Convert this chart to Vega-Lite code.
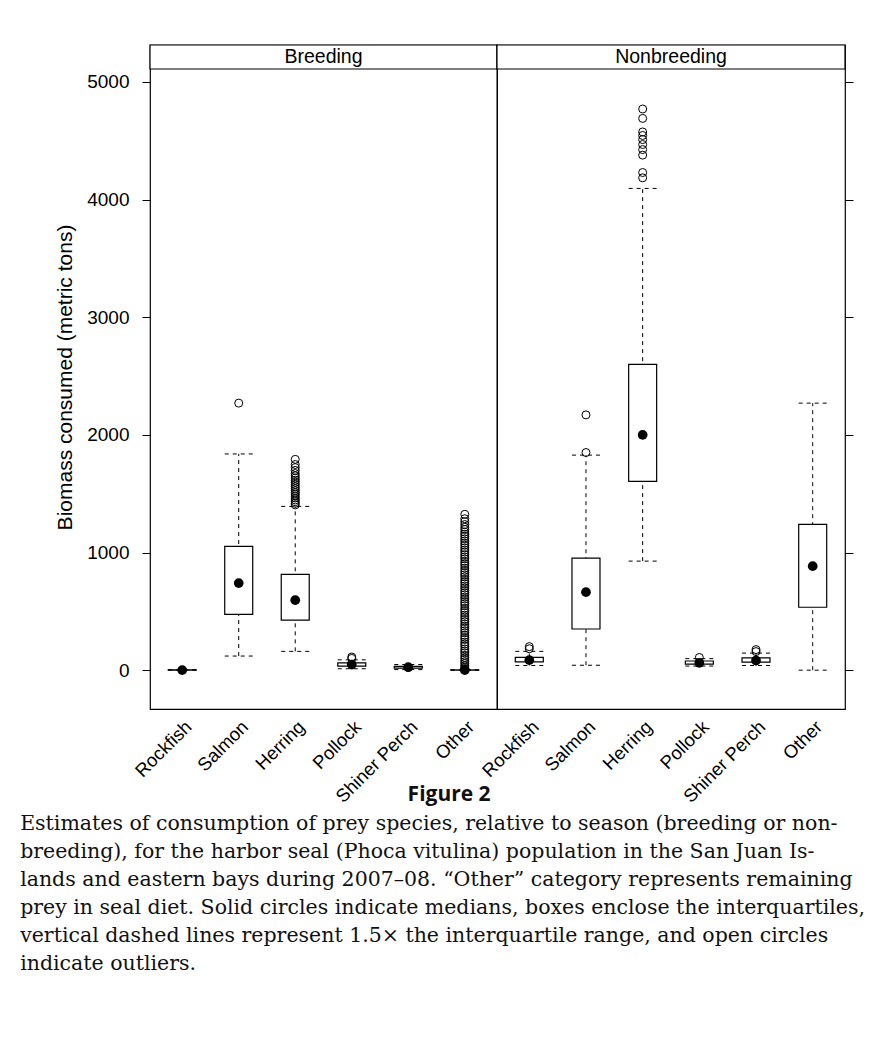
{
  "$schema": "https://vega.github.io/schema/vega-lite/v6.json",
  "padding": {"left": 20, "top": 43, "right": 0, "bottom": 0},
  "autosize": {"type": "pad"},
  "background": "white",
  "config": {
    "font": "Liberation Sans",
    "view": {"stroke": "black", "strokeWidth": 1.2},
    "axis": {"labelColor": "black", "titleColor": "black", "tickColor": "black", "labelFont": "Liberation Sans", "titleFont": "Liberation Sans"}
  },
  "datasets": {
    "panels": [{"season": "Breeding"}, {"season": "Nonbreeding"}],
    "stats": [
      {"season": "Breeding", "species": "Rockfish", "lo": 0, "q1": 0, "med": 0, "q3": 3, "hi": 6},
      {"season": "Breeding", "species": "Salmon", "lo": 120, "q1": 475, "med": 740, "q3": 1052, "hi": 1838},
      {"season": "Breeding", "species": "Herring", "lo": 160, "q1": 425, "med": 595, "q3": 815, "hi": 1392},
      {"season": "Breeding", "species": "Pollock", "lo": 12, "q1": 35, "med": 48, "q3": 62, "hi": 88},
      {"season": "Breeding", "species": "Shiner Perch", "lo": 5, "q1": 18, "med": 25, "q3": 32, "hi": 48},
      {"season": "Breeding", "species": "Other", "lo": 0, "q1": 0, "med": 0, "q3": 2, "hi": 4},
      {"season": "Nonbreeding", "species": "Rockfish", "lo": 40, "q1": 70, "med": 85, "q3": 108, "hi": 160},
      {"season": "Nonbreeding", "species": "Salmon", "lo": 42, "q1": 350, "med": 663, "q3": 952, "hi": 1828},
      {"season": "Nonbreeding", "species": "Herring", "lo": 927, "q1": 1605, "med": 2000, "q3": 2600, "hi": 4095},
      {"season": "Nonbreeding", "species": "Pollock", "lo": 35, "q1": 52, "med": 62, "q3": 78, "hi": 98},
      {"season": "Nonbreeding", "species": "Shiner Perch", "lo": 40, "q1": 68, "med": 82, "q3": 105, "hi": 145},
      {"season": "Nonbreeding", "species": "Other", "lo": 0, "q1": 535, "med": 884, "q3": 1240, "hi": 2270}
    ],
    "outliers": [
      {"season": "Breeding", "species": "Salmon", "value": 2270},
      {"season": "Breeding", "species": "Pollock", "value": 100},
      {"season": "Breeding", "species": "Pollock", "value": 112},
      {"season": "Breeding", "species": "Herring", "value": 1405},
      {"season": "Breeding", "species": "Herring", "value": 1418},
      {"season": "Breeding", "species": "Herring", "value": 1432},
      {"season": "Breeding", "species": "Herring", "value": 1447},
      {"season": "Breeding", "species": "Herring", "value": 1463},
      {"season": "Breeding", "species": "Herring", "value": 1480},
      {"season": "Breeding", "species": "Herring", "value": 1497},
      {"season": "Breeding", "species": "Herring", "value": 1512},
      {"season": "Breeding", "species": "Herring", "value": 1528},
      {"season": "Breeding", "species": "Herring", "value": 1545},
      {"season": "Breeding", "species": "Herring", "value": 1562},
      {"season": "Breeding", "species": "Herring", "value": 1580},
      {"season": "Breeding", "species": "Herring", "value": 1598},
      {"season": "Breeding", "species": "Herring", "value": 1615},
      {"season": "Breeding", "species": "Herring", "value": 1633},
      {"season": "Breeding", "species": "Herring", "value": 1652},
      {"season": "Breeding", "species": "Herring", "value": 1672},
      {"season": "Breeding", "species": "Herring", "value": 1698},
      {"season": "Breeding", "species": "Herring", "value": 1722},
      {"season": "Breeding", "species": "Herring", "value": 1748},
      {"season": "Breeding", "species": "Herring", "value": 1792},
      {"season": "Breeding", "species": "Other", "value": 6},
      {"season": "Breeding", "species": "Other", "value": 14},
      {"season": "Breeding", "species": "Other", "value": 27},
      {"season": "Breeding", "species": "Other", "value": 41},
      {"season": "Breeding", "species": "Other", "value": 58},
      {"season": "Breeding", "species": "Other", "value": 73},
      {"season": "Breeding", "species": "Other", "value": 92},
      {"season": "Breeding", "species": "Other", "value": 108},
      {"season": "Breeding", "species": "Other", "value": 126},
      {"season": "Breeding", "species": "Other", "value": 147},
      {"season": "Breeding", "species": "Other", "value": 163},
      {"season": "Breeding", "species": "Other", "value": 181},
      {"season": "Breeding", "species": "Other", "value": 204},
      {"season": "Breeding", "species": "Other", "value": 222},
      {"season": "Breeding", "species": "Other", "value": 239},
      {"season": "Breeding", "species": "Other", "value": 261},
      {"season": "Breeding", "species": "Other", "value": 278},
      {"season": "Breeding", "species": "Other", "value": 296},
      {"season": "Breeding", "species": "Other", "value": 318},
      {"season": "Breeding", "species": "Other", "value": 335},
      {"season": "Breeding", "species": "Other", "value": 357},
      {"season": "Breeding", "species": "Other", "value": 374},
      {"season": "Breeding", "species": "Other", "value": 392},
      {"season": "Breeding", "species": "Other", "value": 413},
      {"season": "Breeding", "species": "Other", "value": 431},
      {"season": "Breeding", "species": "Other", "value": 452},
      {"season": "Breeding", "species": "Other", "value": 468},
      {"season": "Breeding", "species": "Other", "value": 489},
      {"season": "Breeding", "species": "Other", "value": 507},
      {"season": "Breeding", "species": "Other", "value": 526},
      {"season": "Breeding", "species": "Other", "value": 548},
      {"season": "Breeding", "species": "Other", "value": 566},
      {"season": "Breeding", "species": "Other", "value": 583},
      {"season": "Breeding", "species": "Other", "value": 604},
      {"season": "Breeding", "species": "Other", "value": 622},
      {"season": "Breeding", "species": "Other", "value": 641},
      {"season": "Breeding", "species": "Other", "value": 659},
      {"season": "Breeding", "species": "Other", "value": 677},
      {"season": "Breeding", "species": "Other", "value": 698},
      {"season": "Breeding", "species": "Other", "value": 716},
      {"season": "Breeding", "species": "Other", "value": 735},
      {"season": "Breeding", "species": "Other", "value": 753},
      {"season": "Breeding", "species": "Other", "value": 772},
      {"season": "Breeding", "species": "Other", "value": 794},
      {"season": "Breeding", "species": "Other", "value": 811},
      {"season": "Breeding", "species": "Other", "value": 829},
      {"season": "Breeding", "species": "Other", "value": 848},
      {"season": "Breeding", "species": "Other", "value": 867},
      {"season": "Breeding", "species": "Other", "value": 889},
      {"season": "Breeding", "species": "Other", "value": 906},
      {"season": "Breeding", "species": "Other", "value": 925},
      {"season": "Breeding", "species": "Other", "value": 946},
      {"season": "Breeding", "species": "Other", "value": 963},
      {"season": "Breeding", "species": "Other", "value": 982},
      {"season": "Breeding", "species": "Other", "value": 1003},
      {"season": "Breeding", "species": "Other", "value": 1021},
      {"season": "Breeding", "species": "Other", "value": 1040},
      {"season": "Breeding", "species": "Other", "value": 1062},
      {"season": "Breeding", "species": "Other", "value": 1079},
      {"season": "Breeding", "species": "Other", "value": 1098},
      {"season": "Breeding", "species": "Other", "value": 1117},
      {"season": "Breeding", "species": "Other", "value": 1138},
      {"season": "Breeding", "species": "Other", "value": 1156},
      {"season": "Breeding", "species": "Other", "value": 1174},
      {"season": "Breeding", "species": "Other", "value": 1196},
      {"season": "Breeding", "species": "Other", "value": 1215},
      {"season": "Breeding", "species": "Other", "value": 1238},
      {"season": "Breeding", "species": "Other", "value": 1262},
      {"season": "Breeding", "species": "Other", "value": 1287},
      {"season": "Breeding", "species": "Other", "value": 1325},
      {"season": "Nonbreeding", "species": "Rockfish", "value": 182},
      {"season": "Nonbreeding", "species": "Rockfish", "value": 200},
      {"season": "Nonbreeding", "species": "Salmon", "value": 1850},
      {"season": "Nonbreeding", "species": "Salmon", "value": 2170},
      {"season": "Nonbreeding", "species": "Herring", "value": 4185},
      {"season": "Nonbreeding", "species": "Herring", "value": 4230},
      {"season": "Nonbreeding", "species": "Herring", "value": 4378},
      {"season": "Nonbreeding", "species": "Herring", "value": 4425},
      {"season": "Nonbreeding", "species": "Herring", "value": 4468},
      {"season": "Nonbreeding", "species": "Herring", "value": 4510},
      {"season": "Nonbreeding", "species": "Herring", "value": 4545},
      {"season": "Nonbreeding", "species": "Herring", "value": 4575},
      {"season": "Nonbreeding", "species": "Herring", "value": 4690},
      {"season": "Nonbreeding", "species": "Herring", "value": 4770},
      {"season": "Nonbreeding", "species": "Pollock", "value": 108},
      {"season": "Nonbreeding", "species": "Shiner Perch", "value": 158},
      {"season": "Nonbreeding", "species": "Shiner Perch", "value": 175}
    ]
  },
  "title": {
    "text": [
      "Estimates of consumption of prey species, relative to season (breeding or non-",
      "breeding), for the harbor seal (Phoca vitulina) population in the San Juan Is-",
      "lands and eastern bays during 2007–08. “Other” category represents remaining",
      "prey in seal diet. Solid circles indicate medians, boxes enclose the interquartiles,",
      "vertical dashed lines represent 1.5× the interquartile range, and open circles",
      "indicate outliers."
    ],
    "orient": "bottom",
    "anchor": "start",
    "font": "DejaVu Serif",
    "fontSize": 20.5,
    "fontWeight": "normal",
    "lineHeight": 28,
    "color": "#111111",
    "dx": -34,
    "offset": 8
  },
  "vconcat": [
    {
      "title": {"text": "Figure 2", "orient": "bottom", "anchor": "middle", "font": "Open Sans", "fontSize": 21, "fontWeight": "bold", "color": "#111111", "offset": -22, "dx": -5},
      "spacing": 0,
      "bounds": "flush",
      "hconcat": [
        {
          "width": 347,
          "height": 664,
          "layer": [
            {
              "data": {"name": "panels"},
              "transform": [{"filter": "datum.season === 'Breeding'"}],
              "mark": {"type": "rect", "fill": "white", "stroke": "black", "strokeWidth": 1.2},
              "encoding": {
                "y": {"datum": 5110, "type": "quantitative", "scale": {"domain": [-330, 5314], "nice": false, "zero": false},
                  "axis": {"orient": "left", "values": [0, 1000, 2000, 3000, 4000, 5000], "format": "d", "grid": false, "domain": false, "tickSize": 8, "labelPadding": 13, "labelFontSize": 19, "title": "Biomass consumed (metric tons)", "titleFontSize": 21, "titleFontWeight": "normal", "titlePadding": 11}},
                "y2": {"datum": 5314}
              }
            },
            {
              "data": {"name": "panels"},
              "transform": [{"filter": "datum.season === 'Breeding'"}],
              "mark": {"type": "text", "fontSize": 19.5, "font": "Liberation Sans", "color": "black", "baseline": "middle"},
              "encoding": {"y": {"datum": 5212, "type": "quantitative"}, "text": {"field": "season"}}
            },
            {
              "data": {"name": "stats"},
              "transform": [{"filter": "datum.season === 'Breeding'"}],
              "mark": {"type": "rule", "strokeDash": [4, 4], "color": "black", "strokeWidth": 1},
              "encoding": {
                "x": {"field": "species", "type": "nominal", "sort": ["Rockfish", "Salmon", "Herring", "Pollock", "Shiner Perch", "Other"], "scale": {"paddingInner": 0, "paddingOuter": 0.07},
                  "axis": {"title": null, "labelAngle": -45, "labelFontSize": 18.5, "ticks": false, "domain": false, "labelPadding": 8}},
                "y": {"field": "lo", "type": "quantitative"},
                "y2": {"field": "hi"}
              }
            },
            {
              "data": {"name": "stats"},
              "transform": [{"filter": "datum.season === 'Breeding'"}],
              "mark": {"type": "point", "shape": "stroke", "filled": false, "strokeDash": [4, 4], "stroke": "black", "strokeWidth": 1, "size": 784, "opacity": 1},
              "encoding": {"x": {"field": "species", "type": "nominal", "sort": ["Rockfish", "Salmon", "Herring", "Pollock", "Shiner Perch", "Other"]}, "y": {"field": "lo", "type": "quantitative"}}
            },
            {
              "data": {"name": "stats"},
              "transform": [{"filter": "datum.season === 'Breeding'"}],
              "mark": {"type": "point", "shape": "stroke", "filled": false, "strokeDash": [4, 4], "stroke": "black", "strokeWidth": 1, "size": 784, "opacity": 1},
              "encoding": {"x": {"field": "species", "type": "nominal", "sort": ["Rockfish", "Salmon", "Herring", "Pollock", "Shiner Perch", "Other"]}, "y": {"field": "hi", "type": "quantitative"}}
            },
            {
              "data": {"name": "stats"},
              "transform": [{"filter": "datum.season === 'Breeding'"}],
              "mark": {"type": "bar", "width": 28, "fill": "white", "stroke": "black", "strokeWidth": 1.2},
              "encoding": {"x": {"field": "species", "type": "nominal", "sort": ["Rockfish", "Salmon", "Herring", "Pollock", "Shiner Perch", "Other"]}, "y": {"field": "q1", "type": "quantitative"}, "y2": {"field": "q3"}}
            },
            {
              "data": {"name": "outliers"},
              "transform": [{"filter": "datum.season === 'Breeding'"}],
              "mark": {"type": "point", "shape": "circle", "filled": false, "stroke": "black", "strokeWidth": 1, "size": 64, "opacity": 1},
              "encoding": {"x": {"field": "species", "type": "nominal", "sort": ["Rockfish", "Salmon", "Herring", "Pollock", "Shiner Perch", "Other"]}, "y": {"field": "value", "type": "quantitative"}}
            },
            {
              "data": {"name": "stats"},
              "transform": [{"filter": "datum.season === 'Breeding'"}],
              "mark": {"type": "point", "shape": "circle", "filled": true, "color": "black", "size": 95, "opacity": 1},
              "encoding": {"x": {"field": "species", "type": "nominal", "sort": ["Rockfish", "Salmon", "Herring", "Pollock", "Shiner Perch", "Other"]}, "y": {"field": "med", "type": "quantitative"}}
            }
          ]
        },
        {
          "width": 348,
          "height": 664,
          "layer": [
            {
              "data": {"name": "panels"},
              "transform": [{"filter": "datum.season === 'Nonbreeding'"}],
              "mark": {"type": "rect", "fill": "white", "stroke": "black", "strokeWidth": 1.2},
              "encoding": {
                "y": {"datum": 5110, "type": "quantitative", "scale": {"domain": [-330, 5314], "nice": false, "zero": false},
                  "axis": {"orient": "right", "values": [0, 1000, 2000, 3000, 4000, 5000], "grid": false, "domain": false, "tickSize": 8, "labels": false, "title": null}},
                "y2": {"datum": 5314}
              }
            },
            {
              "data": {"name": "panels"},
              "transform": [{"filter": "datum.season === 'Nonbreeding'"}],
              "mark": {"type": "text", "fontSize": 19.5, "font": "Liberation Sans", "color": "black", "baseline": "middle"},
              "encoding": {"y": {"datum": 5212, "type": "quantitative"}, "text": {"field": "season"}}
            },
            {
              "data": {"name": "stats"},
              "transform": [{"filter": "datum.season === 'Nonbreeding'"}],
              "mark": {"type": "rule", "strokeDash": [4, 4], "color": "black", "strokeWidth": 1},
              "encoding": {
                "x": {"field": "species", "type": "nominal", "sort": ["Rockfish", "Salmon", "Herring", "Pollock", "Shiner Perch", "Other"], "scale": {"paddingInner": 0, "paddingOuter": 0.07},
                  "axis": {"title": null, "labelAngle": -45, "labelFontSize": 18.5, "ticks": false, "domain": false, "labelPadding": 8}},
                "y": {"field": "lo", "type": "quantitative"},
                "y2": {"field": "hi"}
              }
            },
            {
              "data": {"name": "stats"},
              "transform": [{"filter": "datum.season === 'Nonbreeding'"}],
              "mark": {"type": "point", "shape": "stroke", "filled": false, "strokeDash": [4, 4], "stroke": "black", "strokeWidth": 1, "size": 784, "opacity": 1},
              "encoding": {"x": {"field": "species", "type": "nominal", "sort": ["Rockfish", "Salmon", "Herring", "Pollock", "Shiner Perch", "Other"]}, "y": {"field": "lo", "type": "quantitative"}}
            },
            {
              "data": {"name": "stats"},
              "transform": [{"filter": "datum.season === 'Nonbreeding'"}],
              "mark": {"type": "point", "shape": "stroke", "filled": false, "strokeDash": [4, 4], "stroke": "black", "strokeWidth": 1, "size": 784, "opacity": 1},
              "encoding": {"x": {"field": "species", "type": "nominal", "sort": ["Rockfish", "Salmon", "Herring", "Pollock", "Shiner Perch", "Other"]}, "y": {"field": "hi", "type": "quantitative"}}
            },
            {
              "data": {"name": "stats"},
              "transform": [{"filter": "datum.season === 'Nonbreeding'"}],
              "mark": {"type": "bar", "width": 28, "fill": "white", "stroke": "black", "strokeWidth": 1.2},
              "encoding": {"x": {"field": "species", "type": "nominal", "sort": ["Rockfish", "Salmon", "Herring", "Pollock", "Shiner Perch", "Other"]}, "y": {"field": "q1", "type": "quantitative"}, "y2": {"field": "q3"}}
            },
            {
              "data": {"name": "outliers"},
              "transform": [{"filter": "datum.season === 'Nonbreeding'"}],
              "mark": {"type": "point", "shape": "circle", "filled": false, "stroke": "black", "strokeWidth": 1, "size": 64, "opacity": 1},
              "encoding": {"x": {"field": "species", "type": "nominal", "sort": ["Rockfish", "Salmon", "Herring", "Pollock", "Shiner Perch", "Other"]}, "y": {"field": "value", "type": "quantitative"}}
            },
            {
              "data": {"name": "stats"},
              "transform": [{"filter": "datum.season === 'Nonbreeding'"}],
              "mark": {"type": "point", "shape": "circle", "filled": true, "color": "black", "size": 95, "opacity": 1},
              "encoding": {"x": {"field": "species", "type": "nominal", "sort": ["Rockfish", "Salmon", "Herring", "Pollock", "Shiner Perch", "Other"]}, "y": {"field": "med", "type": "quantitative"}}
            }
          ]
        }
      ]
    }
  ]
}
